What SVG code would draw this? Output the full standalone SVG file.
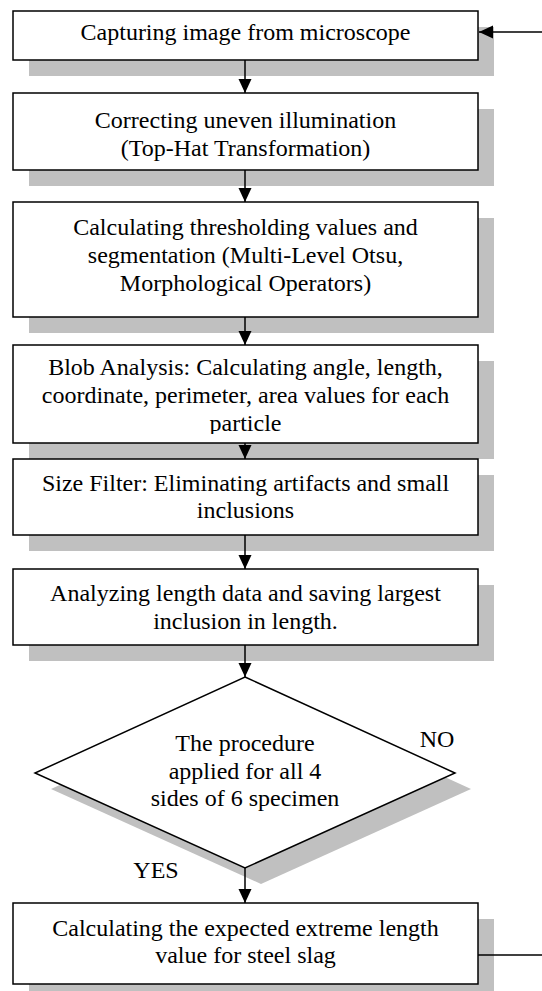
<svg xmlns="http://www.w3.org/2000/svg" width="542" height="991" viewBox="0 0 542 991">
<style>
.bg{fill:#ffffff}
.shadow{fill:#c0c0c0}
.box{fill:#ffffff;stroke:#000000;stroke-width:1.5}
.t{font-family:"Liberation Serif","Times New Roman",serif;font-size:24px;text-anchor:middle;fill:#000000}
.conn{stroke:#000000;stroke-width:1.5;fill:none}
</style>
<defs>
<marker id="arrow" markerUnits="userSpaceOnUse" markerWidth="15" markerHeight="14" refX="14" refY="6.5" orient="auto">
<path d="M0,0 L14,6.5 L0,13 Z" fill="#000000"/>
</marker>
<clipPath id="clip4"><rect x="13" y="345" width="465" height="89"/></clipPath>
</defs>
<rect class="bg" x="0" y="0" width="542" height="991"/>
<g id="n1">
<rect class="shadow" x="29" y="27" width="465" height="49"/>
<rect class="box" x="13" y="11" width="465" height="49"/>
<text class="t" x="245.5" y="40">Capturing image from microscope</text>
</g>
<g id="n2">
<rect class="shadow" x="29" y="109" width="465" height="77"/>
<rect class="box" x="13" y="93" width="465" height="77"/>
<text class="t" x="245.5" y="128">Correcting uneven illumination</text>
<text class="t" x="245.5" y="155.6">(Top-Hat Transformation)</text>
</g>
<g id="n3">
<rect class="shadow" x="29" y="218" width="465" height="115"/>
<rect class="box" x="13" y="202" width="465" height="115"/>
<text class="t" x="245.5" y="235">Calculating thresholding values and</text>
<text class="t" x="245.5" y="263">segmentation (Multi-Level Otsu,</text>
<text class="t" x="245.5" y="291">Morphological Operators)</text>
</g>
<g id="n4">
<rect class="shadow" x="29" y="361" width="465" height="98"/>
<rect class="box" x="13" y="345" width="465" height="98"/>
<g clip-path="url(#clip4)">
<text class="t" x="245.5" y="375">Blob Analysis: Calculating angle, length,</text>
<text class="t" x="245.5" y="403">coordinate, perimeter, area values for each</text>
<text class="t" x="245.5" y="431">particle</text>
</g>
</g>
<g id="n5">
<rect class="shadow" x="29" y="475" width="465" height="76"/>
<rect class="box" x="13" y="459" width="465" height="76"/>
<text class="t" x="245.5" y="491">Size Filter: Eliminating artifacts and small</text>
<text class="t" x="245.5" y="518">inclusions</text>
</g>
<g id="n6">
<rect class="shadow" x="29" y="585" width="465" height="76"/>
<rect class="box" x="13" y="569" width="465" height="76"/>
<text class="t" x="245.5" y="601">Analyzing length data and saving largest</text>
<text class="t" x="245.5" y="629">inclusion in length.</text>
</g>
<g id="n7">
<polygon class="shadow" points="261,693 471,789 261,884 51,789"/>
<polygon class="box" points="245,677 455,773 245,868 35,773"/>
<text class="t" x="245" y="751">The procedure</text>
<text class="t" x="245" y="779">applied for all 4</text>
<text class="t" x="245" y="806">sides of 6 specimen</text>
</g>
<g id="n8">
<rect class="shadow" x="29" y="919" width="465" height="81"/>
<rect class="box" x="13" y="903" width="465" height="81"/>
<text class="t" x="245.5" y="936">Calculating the expected extreme length</text>
<text class="t" x="245.5" y="963">value for steel slag</text>
</g>
<g id="connectors">
<line class="conn" x1="245" y1="60" x2="245" y2="93" marker-end="url(#arrow)"/>
<line class="conn" x1="245" y1="170" x2="245" y2="202" marker-end="url(#arrow)"/>
<line class="conn" x1="245" y1="317" x2="245" y2="345" marker-end="url(#arrow)"/>
<line class="conn" x1="245" y1="443" x2="245" y2="459" marker-end="url(#arrow)"/>
<line class="conn" x1="245" y1="535" x2="245" y2="569" marker-end="url(#arrow)"/>
<line class="conn" x1="245" y1="645" x2="245" y2="677" marker-end="url(#arrow)"/>
<line class="conn" x1="245" y1="868" x2="245" y2="903" marker-end="url(#arrow)"/>
<line class="conn" x1="478" y1="955" x2="542" y2="955"/>
<line class="conn" x1="542" y1="32" x2="479" y2="32" marker-end="url(#arrow)"/>
<text class="t" x="437" y="747">NO</text>
<text class="t" x="156" y="878">YES</text>
</g>
</svg>
